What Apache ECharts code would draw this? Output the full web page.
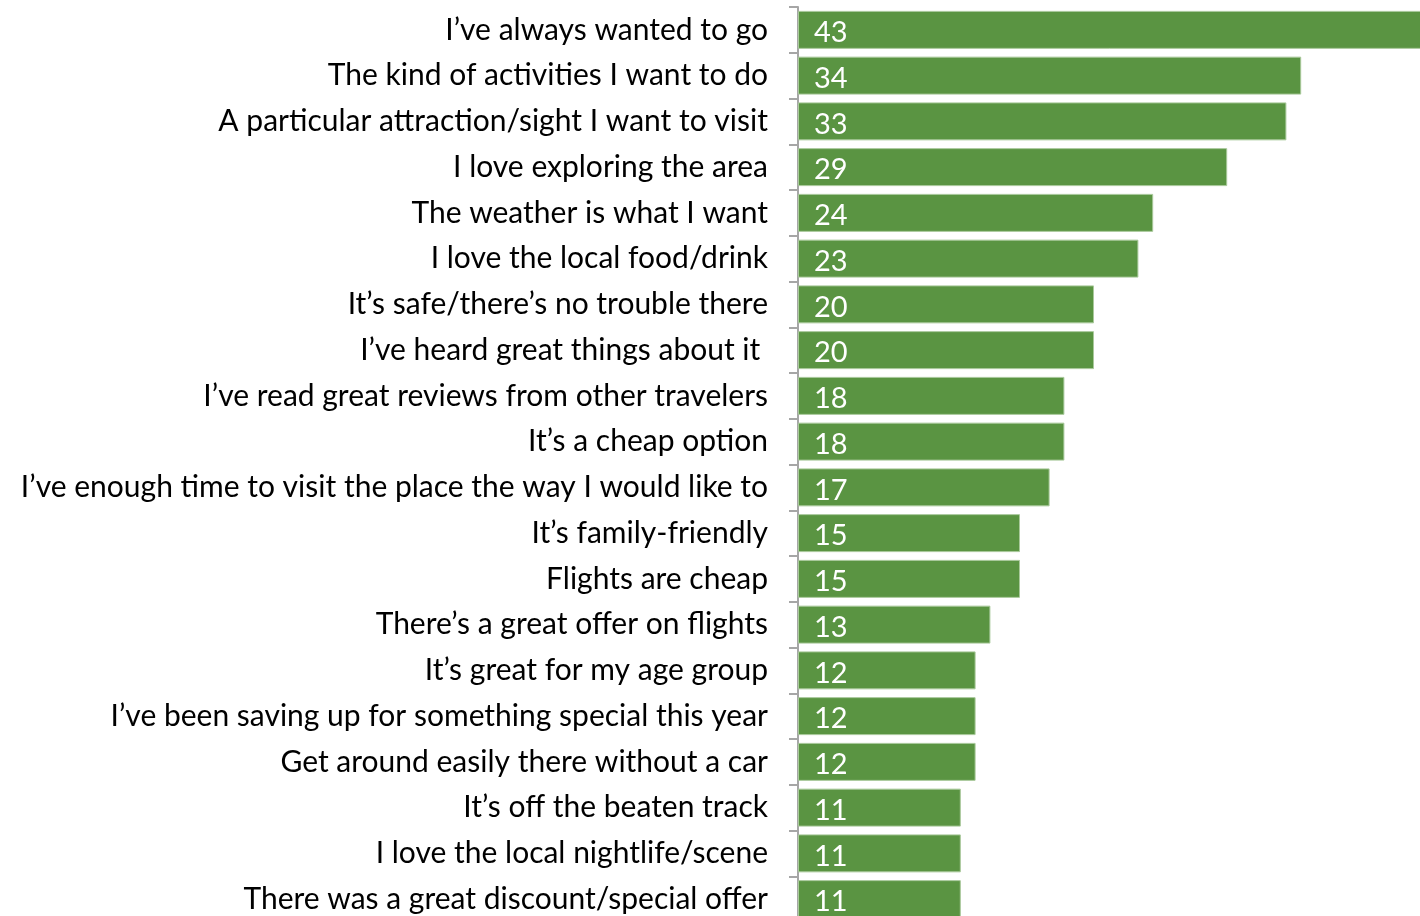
<!DOCTYPE html>
<html>
<head>
<meta charset="utf-8">
<script src="https://cdn.jsdelivr.net/npm/echarts@6/dist/echarts.min.js"></script>
<style>
  html, body { margin: 0; padding: 0; background: #ffffff; }
  #chart { width: 1420px; height: 916px; }
</style>
</head>
<body>
<div id="chart"></div>
<script>
// Reasons for choosing a destination (% of respondents)
const reasons = [
  'I\u2019ve always wanted to go',
  'The kind of activities I want to do',
  'A particular attraction/sight I want to visit',
  'I love exploring the area',
  'The weather is what I want',
  'I love the local food/drink',
  'It\u2019s safe/there\u2019s no trouble there',
  'I\u2019ve heard great things about it ',
  'I\u2019ve read great reviews from other travelers',
  'It\u2019s a cheap option',
  'I\u2019ve enough time to visit the place the way I would like to',
  'It\u2019s family-friendly',
  'Flights are cheap',
  'There\u2019s a great offer on flights',
  'It\u2019s great for my age group',
  'I\u2019ve been saving up for something special this year',
  'Get around easily there without a car',
  'It\u2019s off the beaten track',
  'I love the local nightlife/scene',
  'There was a great discount/special offer'
];
const shares = [43, 34, 33, 29, 24, 23, 20, 20, 18, 18, 17, 15, 15, 13, 12, 12, 12, 11, 11, 11];

const chart = echarts.init(document.getElementById('chart'));
chart.setOption({
  animation: false,
  textStyle: { fontFamily: 'Lato' },
  // plot area runs past the right and bottom edges of the canvas
  grid: { left: 798, top: 7, width: 740, height: 915, outerBoundsMode: 'none', containLabel: false },
  xAxis: {
    type: 'value', min: 0, max: 50,
    show: false
  },
  yAxis: {
    type: 'category',
    data: reasons,
    inverse: true,
    axisLine: { show: true, lineStyle: { color: '#a6a6a6', width: 2 } },
    axisTick: { show: true, length: 9, lineStyle: { color: '#a6a6a6', width: 2 } },
    axisLabel: { color: '#000000', fontSize: 30, margin: 30, fontFamily: 'Lato' }
  },
  series: [{
    type: 'bar',
    data: shares,
    barWidth: '83%',
    clip: false,
    itemStyle: { color: '#5a9442', borderColor: '#a9c99b', borderWidth: 1 },
    label: {
      show: true,
      position: 'insideLeft',
      offset: [11, 3],
      color: '#ffffff',
      fontSize: 29,
      fontFamily: 'Lato'
    }
  }]
});
</script>
</body>
</html>
